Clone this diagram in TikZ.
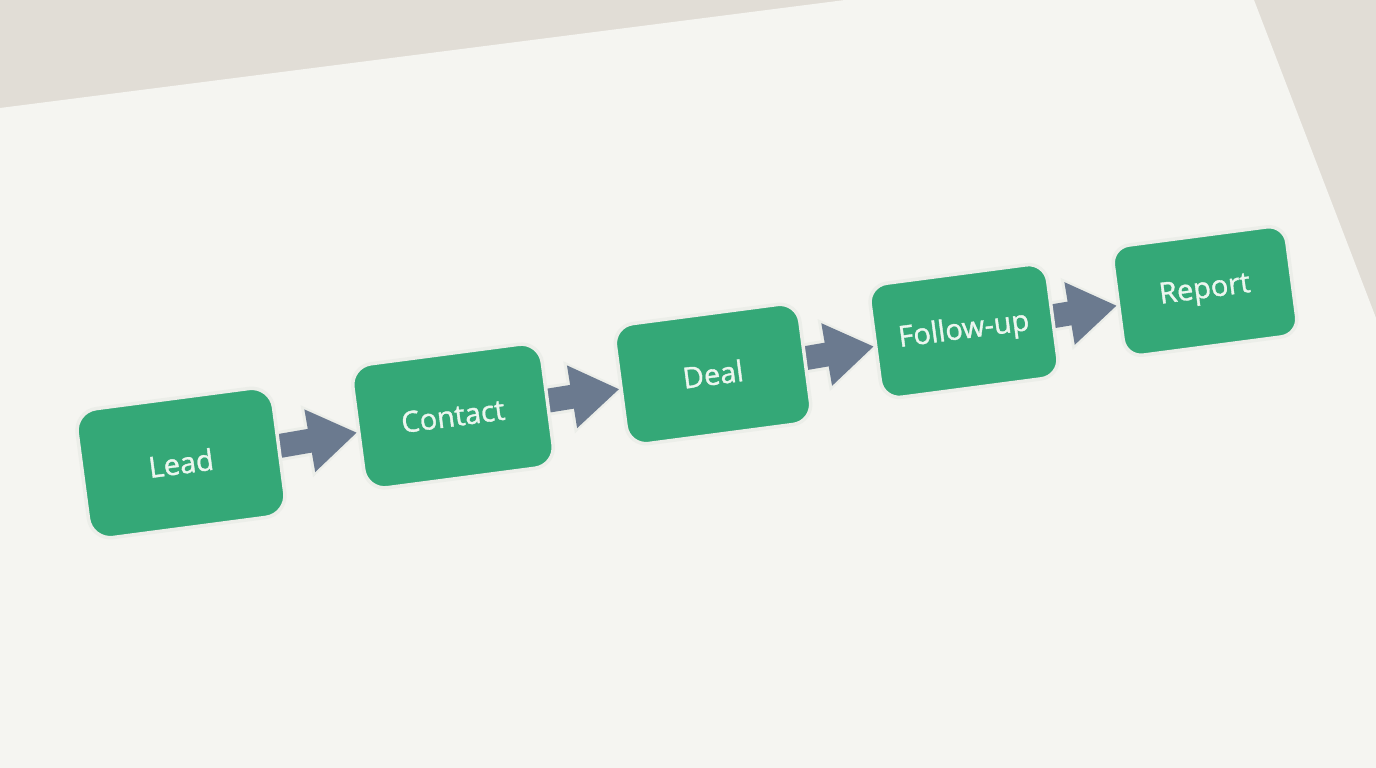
\documentclass[tikz,border=0pt]{standalone}
\usepackage{fontspec}
\setmainfont{Open Sans}
\newfontfamily\stagefont[FakeBold=1.2]{Open Sans}
\usetikzlibrary{arrows.meta}
\pgfdeclarelayer{background}
\pgfsetlayers{background,main}

\definecolor{paper}{RGB}{245,245,241}
\definecolor{backwall}{RGB}{225,221,214}
\definecolor{stagegreen}{RGB}{52,168,119}
\definecolor{stageedge}{RGB}{236,238,233}
\definecolor{flowgrey}{RGB}{107,122,143}
\definecolor{labelwhite}{RGB}{236,246,239}

\tikzset{
  stage/.style={draw=stageedge, line width=3.5pt, fill=stagegreen, rotate=7.5,
    text=labelwhite, font=\stagefont\fontsize{29}{32}\selectfont, inner sep=0pt},
  flow/.style={draw=flowgrey, line width=24pt, shorten <=-12pt,
    -{Triangle[length=48pt,width=60pt]},
    preaction={draw=stageedge, line width=30pt, shorten >=-4pt,
      -{Triangle[length=55pt,width=69pt]}}},
}

\begin{document}
\begin{tikzpicture}[x=1pt,y=1pt,yscale=-1,xscale=1]
\useasboundingbox (0,0) rectangle (1376,768);

% paper in the back
\begin{pgfonlayer}{background}
\fill[backwall] (0,0) rectangle (1376,768);
\fill[paper] (0,108) -- (845,0) -- (1254,0) -- (1376,318) -- (1376,768) -- (0,768) -- cycle;
\end{pgfonlayer}

% Stages
\node[stage, minimum width=198pt, minimum height=130pt, rounded corners=22pt] (lead) at (181,463) {Lead};
\node[stage, minimum width=191pt, minimum height=125pt, rounded corners=21pt] (contact) at (453,416) {Contact};
\node[stage, minimum width=186pt, minimum height=121pt, rounded corners=20pt] (deal) at (713,374) {Deal};
\node[stage, minimum width=179pt, minimum height=115pt, rounded corners=19pt] (followup) at (964,331) {Follow-up};
\node[stage, minimum width=175pt, minimum height=111pt, rounded corners=18pt] (report) at (1205,291) {Report};

% Flow arrows, behind the stages
\begin{pgfonlayer}{background}
\draw[flow] (lead) -- (contact);
\draw[flow] (contact) -- (deal);
\draw[flow] (deal) -- (followup);
\draw[flow] (followup) -- (report);
\end{pgfonlayer}

\end{tikzpicture}
\end{document}
